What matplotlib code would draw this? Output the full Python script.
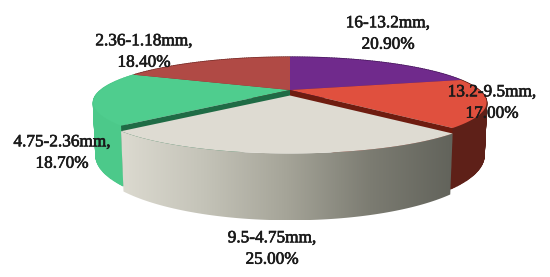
import numpy as np
import matplotlib.pyplot as plt
import matplotlib.patheffects as pe
from matplotlib.colors import LinearSegmentedColormap
from matplotlib.patches import Polygon

# clockwise from 12 o'clock
sizes = ["16-13.2mm", "13.2-9.5mm", "9.5-4.75mm", "4.75-2.36mm", "2.36-1.18mm"]
shares = [20.9, 17.0, 25.0, 18.7, 18.4]
top_colors = ["#702a8c", "#e0503e", "#dedbd2", "#4fcd8e", "#b04a45"]
wall_colors = ["#4a1a60", "#5e2018", "#b5b4a8", "#4cc98a", "#7a2e2a"]
cut_colors = ["#4a1a60", "#6e1c10", "#b5b4a8", "#1f6b45", "#7a2e2a"]
gradient_colors = ["#dcdad0", "#c4c3b8", "#a5a498", "#7c7c72", "#62635b"]
label_pos = [(388, 34), (492, 103), (272, 249), (62, 153), (144, 52)]

EXPLODED = 2
CX, CY = 290, 90
R, S, H = 189, 42, 50
K, M = 0.275, 0.012
SHIFT = 5.5


def project(theta, z=0.0, r=1.0, dy=0.0):
    u = r * np.sin(theta)
    v = -r * np.cos(theta)
    w = 1 - K * v + M * z
    return np.column_stack([CX + R * u / w, CY + dy + (S * v + H * z) / w])


def rim(a, b, z=0.0, dy=0.0):
    return project(np.linspace(a, b, 80), z, dy=dy)


def apex(z=0.0, dy=0.0):
    return project(np.array([0.0]), z, r=0.0, dy=dy)


fig = plt.figure(figsize=(5.5, 2.77), dpi=100)
ax = fig.add_axes([0, 0, 1, 1])

edges = np.radians(np.cumsum([0] + shares) * 3.6)

# outer walls of the slices that stay in place, small strips because the band folds over itself
for i in range(len(shares)):
    if i == EXPLODED:
        continue
    upper = rim(edges[i], edges[i + 1])
    lower = rim(edges[i], edges[i + 1], 1)
    for j in range(len(upper) - 1):
        pts = [upper[j], upper[j + 1], lower[j + 1], lower[j]]
        ax.add_patch(Polygon(pts, closed=True, fc=wall_colors[i], ec=wall_colors[i], lw=1.0, zorder=1))

# top faces
for i in range(len(shares)):
    if i == EXPLODED:
        continue
    pts = np.vstack([apex(), rim(edges[i], edges[i + 1])])
    ax.add_patch(Polygon(pts, closed=True, fc=top_colors[i], ec="none", zorder=2))

# cut faces showing through the gap left by the pulled out slice
for i, a in [(EXPLODED - 1, edges[EXPLODED]), (EXPLODED + 1, edges[EXPLODED + 1])]:
    pts = np.vstack([apex(), project(np.array([a])), project(np.array([a]), 1), apex(1)])
    ax.add_patch(Polygon(pts, closed=True, fc=cut_colors[i], ec="none", zorder=3))

# pulled out slice, wall has a left to right shading
a, b = edges[EXPLODED], edges[EXPLODED + 1]
wall = np.vstack([rim(a, b, dy=SHIFT), rim(b, a, 1, dy=SHIFT)])
wall_patch = Polygon(wall, closed=True, fc="none", ec="none", transform=ax.transData)
ax.add_patch(wall_patch)
cmap = LinearSegmentedColormap.from_list("wall", gradient_colors)
img = ax.imshow(
    np.linspace(0, 1, 256).reshape(1, -1),
    cmap=cmap,
    aspect="auto",
    extent=[wall[:, 0].min(), wall[:, 0].max(), wall[:, 1].max(), wall[:, 1].min()],
    zorder=4,
)
img.set_clip_path(wall_patch)
top = np.vstack([apex(dy=SHIFT), rim(a, b, dy=SHIFT)])
ax.add_patch(Polygon(top, closed=True, fc=top_colors[EXPLODED], ec="none", zorder=5))

for name, share, (x, y) in zip(sizes, shares, label_pos):
    ax.text(
        x, y, f"{name},\n{share:.2f}%",
        ha="center", va="center", ma="center", linespacing=1.45,
        family="Liberation Serif", fontsize=12.4, color="#1a1a1a", zorder=6,
        path_effects=[pe.withStroke(linewidth=0.45, foreground="#1a1a1a")],
    )

ax.set_xlim(0, 550)
ax.set_ylim(277, 0)
ax.axis("off")
fig.savefig("out.png", dpi=100)
